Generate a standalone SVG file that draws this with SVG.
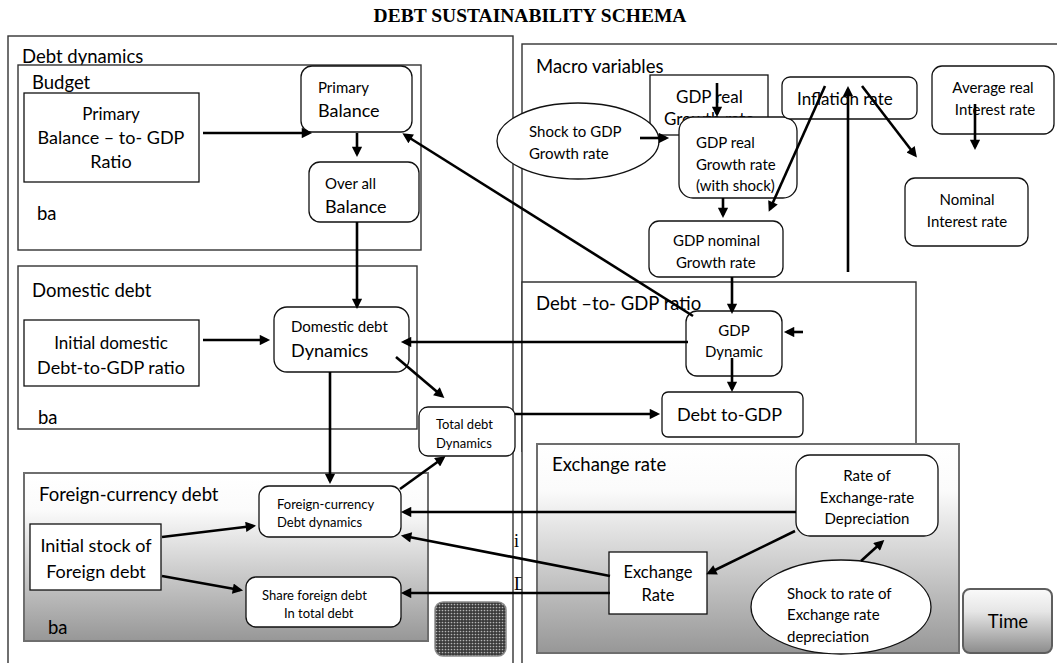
<svg xmlns="http://www.w3.org/2000/svg" width="1057" height="663" viewBox="0 0 1057 663">
  <style>
    .t { font-family: Lato, "Liberation Sans", sans-serif; fill: #000; }
    .lbl { font-size: 18.5px; }
    .m { font-size: 15px; }
    .s { font-size: 13px; }
    .l { font-size: 18px; }
    .c { text-anchor: middle; }
    .frame { fill: #fff; stroke: #333; stroke-width: 1.4; }
    .shade { fill: url(#shade); stroke: #6e6e6e; stroke-width: 2; }
    .box { fill: #fff; stroke: #111; stroke-width: 1.3; }
    .link { fill: none; stroke: #000; stroke-width: 2.6; marker-end: url(#arr); }
  </style>
  <defs>
    <marker id="arr" viewBox="0 0 10 10" refX="7" refY="5" markerWidth="4.4" markerHeight="4" orient="auto" markerUnits="strokeWidth">
      <path d="M0,0 L10,5 L0,10 z" fill="#000"/>
    </marker>
    <linearGradient id="shade" x1="0" y1="0" x2="0" y2="1">
      <stop offset="0" stop-color="#ffffff"/>
      <stop offset="0.22" stop-color="#fbfbfb"/>
      <stop offset="1" stop-color="#979797"/>
    </linearGradient>
    <linearGradient id="btn" x1="0" y1="0" x2="0" y2="1">
      <stop offset="0" stop-color="#fafafa"/>
      <stop offset="0.35" stop-color="#e6e6e6"/>
      <stop offset="1" stop-color="#8c8c8c"/>
    </linearGradient>
    <pattern id="dots" width="3" height="3" patternUnits="userSpaceOnUse">
      <rect width="3" height="3" fill="#3a3a3a"/>
      <circle cx="1.5" cy="1.5" r="0.85" fill="#b5b5b5"/>
    </pattern>
  </defs>

  <!-- heading -->
  <text x="530" y="22" text-anchor="middle" font-family="'Liberation Serif', serif" font-weight="bold" font-size="19.5">DEBT SUSTAINABILITY SCHEMA</text>

  <!-- left column: debt dynamics -->
  <g id="debt-dynamics">
    <rect class="frame" x="8" y="36" width="505" height="640"/>
    <text class="t lbl" x="22" y="63">Debt dynamics</text>
  </g>
  <g id="budget">
    <rect class="frame" x="18" y="65" width="403" height="185"/>
    <text class="t lbl" x="32" y="89">Budget</text>
    <text class="t lbl" x="37" y="220">ba</text>
  </g>
  <g id="domestic-debt">
    <rect class="frame" x="18" y="266" width="399" height="163"/>
    <text class="t lbl" x="32" y="297">Domestic debt</text>
    <text class="t lbl" x="38" y="424">ba</text>
  </g>
  <g id="foreign-debt">
    <rect class="shade" x="24" y="473" width="404" height="168"/>
    <text class="t lbl" x="39" y="501">Foreign-currency debt</text>
    <text class="t lbl" x="48" y="634">ba</text>
  </g>

  <!-- stray glyphs between the two columns -->
  <text x="514" y="547" font-family="'Liberation Serif', serif" font-size="18">i</text>
  <text x="514" y="590" font-family="'Liberation Serif', serif" font-size="18">D</text>

  <!-- right column: macro variables -->
  <g id="macro-variables">
    <rect class="frame" x="522" y="44" width="560" height="640"/>
    <text class="t lbl" x="536" y="73">Macro variables</text>
  </g>
  <g id="debt-to-gdp-ratio">
    <path class="frame" d="M522,452 V282 H916 V452"/>
    <text class="t lbl" x="536" y="310">Debt –to- GDP ratio</text>
  </g>
  <g id="exchange-rate">
    <rect class="shade" x="537" y="444" width="422" height="209"/>
    <text class="t lbl" x="552" y="471">Exchange rate</text>
  </g>

  <!-- nodes -->
  <g id="pb-to-gdp">
    <rect class="box" x="24" y="93" width="175" height="89"/>
    <text class="t c" x="111" y="120" style="font-size:17px">Primary</text>
    <text class="t l c" x="111" y="144">Balance – to- GDP</text>
    <text class="t l c" x="111" y="168">Ratio</text>
  </g>
  <g id="primary-balance">
    <rect class="box" x="301" y="66" width="111" height="66" rx="11"/>
    <text class="t m" x="318" y="93">Primary</text>
    <text class="t l" x="318" y="117">Balance</text>
  </g>
  <g id="overall-balance">
    <rect class="box" x="309" y="162" width="110" height="60" rx="11"/>
    <text class="t m" x="325" y="189">Over all</text>
    <text class="t l" x="325" y="213">Balance</text>
  </g>
  <g id="initial-domestic">
    <rect class="box" x="24" y="320" width="175" height="66"/>
    <text class="t c" x="111" y="349" style="font-size:17px">Initial domestic</text>
    <text class="t l c" x="111" y="374">Debt-to-GDP ratio</text>
  </g>
  <g id="domestic-dynamics">
    <rect class="box" x="274" y="307" width="135" height="65" rx="13"/>
    <text class="t m" x="291" y="332">Domestic debt</text>
    <text class="t l" x="291" y="357">Dynamics</text>
  </g>
  <g id="total-debt">
    <rect class="box" x="419" y="407" width="96" height="49" rx="9"/>
    <text class="t s" x="436" y="429">Total debt</text>
    <text class="t s" x="436" y="448">Dynamics</text>
  </g>
  <g id="initial-foreign">
    <rect class="box" x="30" y="524" width="131" height="66"/>
    <text class="t l c" x="96" y="552">Initial stock of</text>
    <text class="t l c" x="96" y="578">Foreign debt</text>
  </g>
  <g id="foreign-dynamics">
    <rect class="box" x="259" y="486" width="142" height="51" rx="10"/>
    <text class="t s" x="277" y="509">Foreign-currency</text>
    <text class="t s" x="277" y="527">Debt dynamics</text>
  </g>
  <g id="share-foreign">
    <rect class="box" x="246" y="577" width="155" height="50" rx="10"/>
    <text class="t s" x="262" y="600">Share foreign debt</text>
    <text class="t s" x="284" y="618">In total debt</text>
  </g>
  <g id="next-button">
    <rect x="435" y="602" width="71" height="54" rx="8" fill="url(#dots)" stroke="#8a8a8a" stroke-width="1.5"/>
  </g>

  <g id="gdp-real">
    <rect class="box" x="650" y="75" width="118" height="60"/>
    <text class="t" x="676" y="103" style="font-size:17px">GDP real</text>
    <text class="t" x="664" y="125" style="font-size:17px">Growth rate</text>
  </g>
  <g id="gdp-shock">
    <ellipse class="box" cx="578" cy="141" rx="81" ry="38"/>
    <text class="t m" x="529" y="137">Shock to GDP</text>
    <text class="t m" x="529" y="159">Growth rate</text>
  </g>
  <g id="gdp-real-shocked">
    <rect class="box" x="679" y="117" width="118" height="81" rx="14"/>
    <text class="t m" x="696" y="148">GDP real</text>
    <text class="t m" x="696" y="170">Growth rate</text>
    <text class="t m" x="696" y="191">(with shock)</text>
  </g>
  <g id="inflation">
    <rect class="box" x="782" y="77" width="135" height="42" rx="8"/>
    <text class="t" x="797" y="105" style="font-size:17px">Inflation rate</text>
  </g>
  <g id="avg-real-rate">
    <rect class="box" x="932" y="66" width="122" height="68" rx="10"/>
    <text class="t m c" x="993" y="93">Average real</text>
    <text class="t m c" x="995" y="115">Interest rate</text>
  </g>
  <g id="nominal-rate">
    <rect class="box" x="905" y="178" width="123" height="68" rx="10"/>
    <text class="t m c" x="967" y="205">Nominal</text>
    <text class="t m c" x="967" y="227">Interest rate</text>
  </g>
  <g id="gdp-nominal">
    <rect class="box" x="649" y="221" width="134" height="56" rx="10"/>
    <text class="t m" x="673" y="246">GDP nominal</text>
    <text class="t m" x="676" y="268">Growth rate</text>
  </g>
  <g id="gdp-dynamic">
    <rect class="box" x="686" y="311" width="96" height="65" rx="11"/>
    <text class="t m c" x="734" y="336">GDP</text>
    <text class="t m c" x="734" y="357">Dynamic</text>
  </g>
  <g id="debt-to-gdp">
    <rect class="box" x="662" y="392" width="141" height="45" rx="6"/>
    <text class="t l" x="677" y="421">Debt to-GDP</text>
  </g>
  <g id="depreciation-rate">
    <rect class="box" x="796" y="455" width="142" height="81" rx="14"/>
    <text class="t m c" x="867" y="481">Rate of</text>
    <text class="t m c" x="867" y="503">Exchange-rate</text>
    <text class="t m c" x="867" y="524">Depreciation</text>
  </g>
  <g id="exchange-rate-node">
    <rect class="box" x="609" y="552" width="98" height="62"/>
    <text class="t c" x="658" y="578" style="font-size:16.5px">Exchange</text>
    <text class="t c" x="658" y="601" style="font-size:16.5px">Rate</text>
  </g>
  <g id="depreciation-shock">
    <ellipse class="box" cx="841" cy="607" rx="90" ry="47"/>
    <text class="t m" x="787" y="599">Shock to rate of</text>
    <text class="t m" x="787" y="620">Exchange rate</text>
    <text class="t m" x="787" y="642">depreciation</text>
  </g>
  <g id="time-button">
    <rect x="963" y="589" width="89" height="64" rx="7" fill="url(#btn)" stroke="#5e5e5e" stroke-width="2"/>
    <text class="t lbl c" x="1008" y="628">Time</text>
  </g>

  <!-- connectors -->
  <g id="connectors">
    <path class="link" d="M203,133 H309"/>
    <path class="link" d="M357,133 V154"/>
    <path class="link" d="M357,222 V306"/>
    <path class="link" d="M203,340 H267"/>
    <path class="link" d="M688,342 H404"/>
    <path class="link" d="M396,357 L442,396"/>
    <path class="link" d="M330,372 V481"/>
    <path class="link" d="M515,414 H657"/>
    <path class="link" d="M400,489 L443,458"/>
    <path class="link" d="M162,537 L253,526"/>
    <path class="link" d="M162,576 L240,590"/>
    <path class="link" d="M796,512 H404"/>
    <path class="link" d="M610,576 L404,536"/>
    <path class="link" d="M610,593 H404"/>
    <path class="link" d="M795,531 L709,573"/>
    <path class="link" d="M861,561 L882,542"/>
    <path class="link" d="M640,138 H666"/>
    <path class="link" d="M717,83 V114"/>
    <path class="link" d="M723,198 V215"/>
    <path class="link" d="M825,86 L770,209"/>
    <path class="link" d="M862,86 L915,155"/>
    <path class="link" d="M848,272 V89"/>
    <path class="link" d="M975,104 V147"/>
    <path class="link" d="M732,277 V311"/>
    <path class="link" d="M803,332 H787"/>
    <path class="link" d="M732,358 V389"/>
    <path class="link" d="M693,316 L405,135"/>
  </g>
</svg>
